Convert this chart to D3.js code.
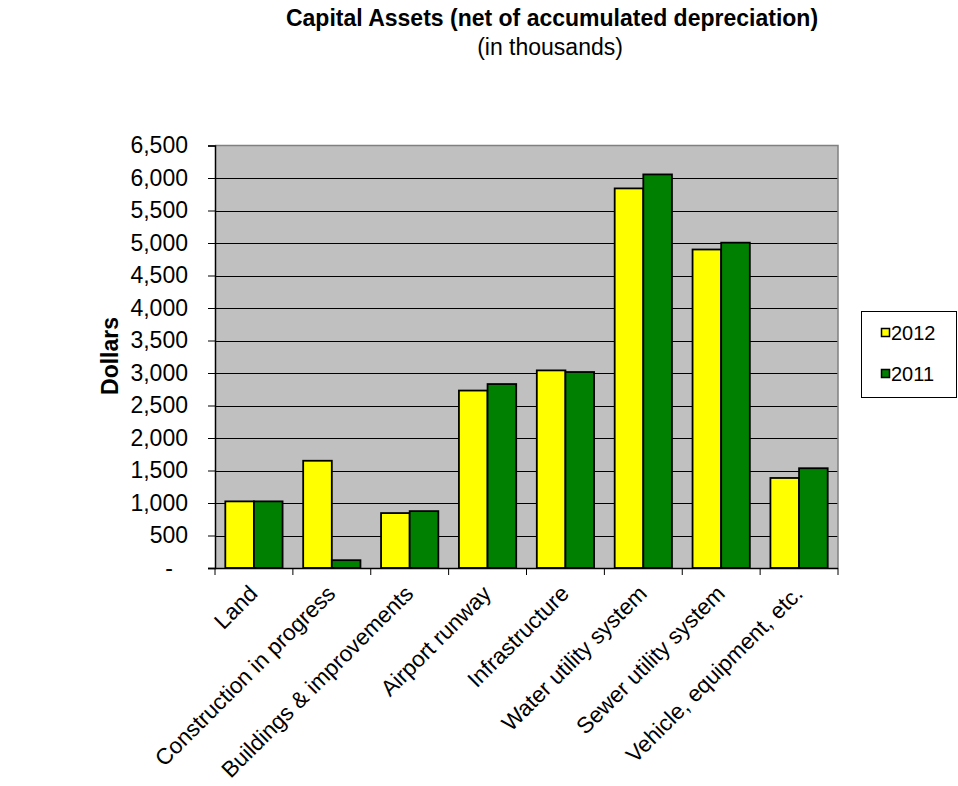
<!DOCTYPE html>
<html><head><meta charset="utf-8">
<script src="https://cdn.jsdelivr.net/npm/d3@7"></script>
<style>body{margin:0;background:#fff;} text{font-family:Arial,"Liberation Sans",sans-serif;}</style>
</head><body>
<svg id="c" width="958" height="786"></svg>
<script>
const categories = ["Land","Construction in progress","Buildings & improvements","Airport runway","Infrastructure","Water utility system","Sewer utility system","Vehicle, equipment, etc."];
const series = ["2012","2011"];
const values2012 = [1025,1650,845,2730,3040,5840,4900,1385];
const values2011 = [1025,120,875,2830,3015,6055,5005,1535];
const yTicks = [0,500,1000,1500,2000,2500,3000,3500,4000,4500,5000,5500,6000,6500];
const colors = ["#FFFF00","#008000"];

const svg = d3.select("#c");
const L=215, R=838, T=145.5, B=568;
const x = d3.scaleBand().domain(categories).range([L,R]).paddingInner(0).paddingOuter(0);
const xs = d3.scaleBand().domain(series).range([0,x.bandwidth()]).paddingInner(0).paddingOuter(0.36);
const y = d3.scaleLinear().domain([0,6500]).range([B,T]);

svg.append("rect").attr("x",L).attr("y",T).attr("width",R-L).attr("height",B-T).attr("fill","#C0C0C0");
svg.append("g").selectAll("line").data(yTicks.filter(d=>d>0 && d<6500)).join("line")
  .attr("x1",L).attr("x2",R).attr("y1",d=>Math.round(y(d))+0.5).attr("y2",d=>Math.round(y(d))+0.5)
  .attr("stroke","#000").attr("stroke-width",1);
svg.append("path").attr("d",`M${L},${T}H${R}V${B}`).attr("fill","none").attr("stroke","#808080").attr("stroke-width",1.5);

const data = categories.map((c,i)=>({c, v:[values2012[i],values2011[i]]}));
const g = svg.append("g");
data.forEach(d=>{
  series.forEach((s,j)=>{
    g.append("rect").attr("x",x(d.c)+xs(s)).attr("y",y(d.v[j]))
      .attr("width",xs.bandwidth()).attr("height",B-y(d.v[j]))
      .attr("fill",colors[j]).attr("stroke","#000").attr("stroke-width",1.8);
  });
});

const yAxis = d3.axisLeft(y).tickValues(yTicks).tickSize(7).tickPadding(20)
  .tickFormat(d=> d===0 ? "-" : d3.format(",")(d));
const ya = svg.append("g").attr("transform",`translate(${L},0)`).call(yAxis);
ya.select(".domain").attr("stroke","#000").attr("stroke-width",1.5);
ya.selectAll("line").attr("stroke","#000");
ya.selectAll("text").attr("font-size",23).attr("fill","#000").attr("font-family","Arial, Liberation Sans, sans-serif")
  .attr("dx",d=> d===0 ? -15 : 0);

const xa = svg.append("g").attr("transform",`translate(0,${B})`);
xa.append("line").attr("x1",L-7).attr("x2",R).attr("y1",0.5).attr("y2",0.5).attr("stroke","#000").attr("stroke-width",1.5);
const edges = categories.map(c=>x(c)).concat([R]);
xa.selectAll("line.t").data(edges).join("line").attr("class","t")
  .attr("x1",d=>d).attr("x2",d=>d).attr("y1",0).attr("y2",7).attr("stroke","#000");
xa.selectAll("text").data(categories).join("text")
  .attr("transform",d=>`translate(${x(d)+x.bandwidth()/2+5},${27}) rotate(-45)`)
  .attr("text-anchor","end").attr("font-size",22.5).attr("fill","#000").text(d=>d);

svg.append("text").attr("x",552).attr("y",26).attr("text-anchor","middle").attr("font-size",23).attr("font-weight","bold").text("Capital Assets (net of accumulated depreciation)");
svg.append("text").attr("x",550).attr("y",55).attr("text-anchor","middle").attr("font-size",23).text("(in thousands)");
svg.append("text").attr("transform","translate(118,356) rotate(-90)").attr("text-anchor","middle").attr("font-size",23).attr("font-weight","bold").text("Dollars");

const lg = svg.append("g");
lg.append("rect").attr("x",861.5).attr("y",311.5).attr("width",95).attr("height",86).attr("fill","#fff").attr("stroke","#000");
series.forEach((s,j)=>{
  const yy = 333 + j*41;
  lg.append("rect").attr("x",881.5).attr("y",yy-4.5).attr("width",8).attr("height",8).attr("fill",colors[j]).attr("stroke","#000").attr("stroke-width",1.5);
  lg.append("text").attr("x",891).attr("y",yy+7).attr("font-size",20).text(s);
});
</script>
</body></html>
